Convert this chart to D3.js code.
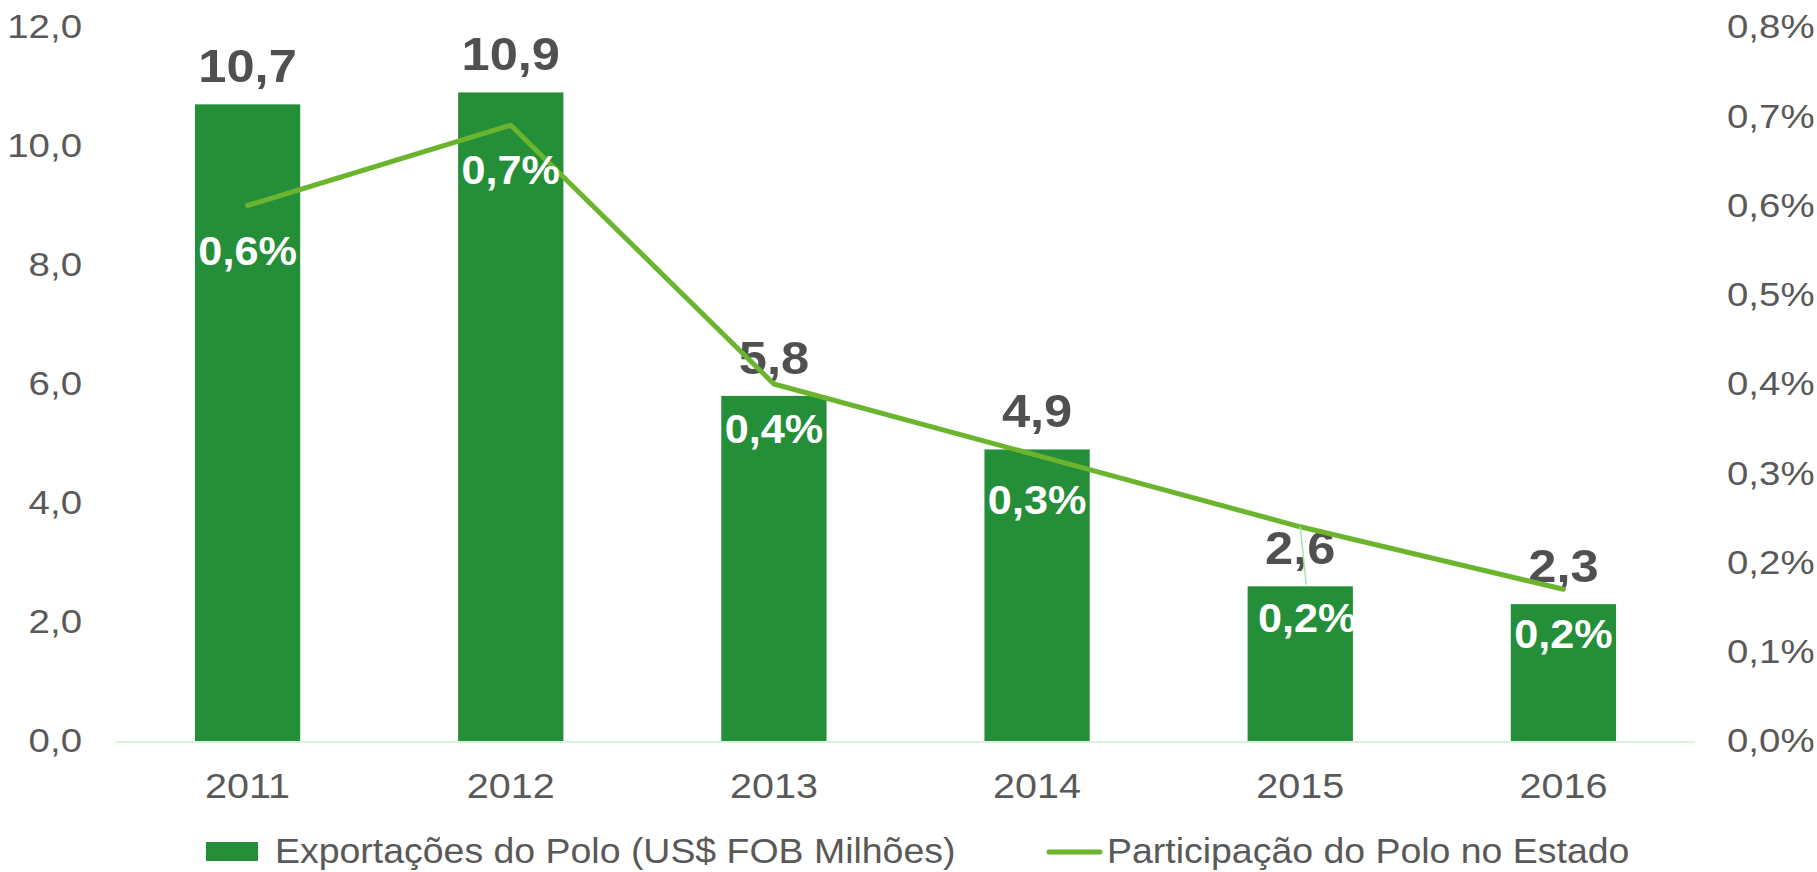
<!DOCTYPE html>
<html>
<head>
<meta charset="utf-8">
<script src="https://cdn.jsdelivr.net/npm/d3@7"></script>
<style>
  html, body { margin: 0; padding: 0; background: #fff; }
  svg { display: block; font-family: "Liberation Sans", Arial, sans-serif; }
</style>
</head>
<body>
<svg id="chart" width="1817" height="872"></svg>
<script>
// data
const years = ["2011", "2012", "2013", "2014", "2015", "2016"];
const exportacoes = [10.7, 10.9, 5.8, 4.9, 2.6, 2.3];      // US$ FOB milhões
const participacao = [0.60, 0.69, 0.40, 0.32, 0.24, 0.17]; // % do estado
const leftTicks = [0, 2, 4, 6, 8, 10, 12];
const rightTicks = [0, 0.1, 0.2, 0.3, 0.4, 0.5, 0.6, 0.7, 0.8];
const legendNames = ["Exportações do Polo (US$ FOB Milhões)", "Participação do Polo no Estado"];

const barColor = "#258e38";
const lineColor = "#6ab42e";
const textColor = "#595959";
const FONT = "Liberation Sans, Arial, sans-serif";
const SX = 1.13; // the original text is a bit wide, stretch it horizontally

const br = d3.formatLocale({decimal: ",", thousands: ".", grouping: [3], currency: ["R$", ""]});
const f1 = br.format(".1f");

const svg = d3.select("#chart");

const x = d3.scaleBand().domain(years).range([116, 1695]).paddingInner(0.6).paddingOuter(0.3);
const yL = d3.scaleLinear().domain([0, 12]).range([741, 27]);
const yR = d3.scaleLinear().domain([0, 0.8]).range([741, 27]);

function styleAxis(g, size) {
  g.select(".domain").remove();
  g.selectAll("text").attr("fill", textColor)
    .style("font-size", size + "px").style("font-family", FONT)
    .attr("transform", `scale(${SX},1)`);
}

// left axis
svg.append("g").attr("transform", "translate(82,0)")
  .call(d3.axisLeft(yL).tickValues(leftTicks).tickFormat(f1).tickSize(0).tickPadding(0))
  .call(g => styleAxis(g, 34));

// right axis
svg.append("g").attr("transform", "translate(1727,0)")
  .call(d3.axisRight(yR).tickValues(rightTicks).tickFormat(d => f1(d) + "%").tickSize(0).tickPadding(0))
  .call(g => styleAxis(g, 34));

// baseline
svg.append("line")
  .attr("x1", 116).attr("x2", 1695)
  .attr("y1", yL(0) + 1).attr("y2", yL(0) + 1)
  .attr("stroke", "#d8f4df").attr("stroke-width", 2);

// x axis
svg.append("g").attr("transform", "translate(0,773)")
  .call(d3.axisBottom(x).tickSize(0).tickPadding(0))
  .call(g => styleAxis(g, 35))
  .call(g => g.selectAll("text").attr("dy", "0.72em"));

// bars
svg.append("g").selectAll("rect")
  .data(years)
  .join("rect")
  .attr("x", d => x(d))
  .attr("width", x.bandwidth())
  .attr("y", (d, i) => yL(exportacoes[i]))
  .attr("height", (d, i) => yL(0) - yL(exportacoes[i]))
  .attr("fill", barColor);

// bar value labels
svg.append("g").selectAll("text")
  .data(years)
  .join("text")
  .attr("transform", (d, i) => `translate(${x(d) + x.bandwidth() / 2},${yL(exportacoes[i]) - 22}) scale(1.1,1)`)
  .attr("text-anchor", "middle")
  .attr("fill", "#505050")
  .style("font-size", "46px").style("font-weight", "bold")
  .text((d, i) => f1(exportacoes[i]));

// line
const line = d3.line()
  .x((d, i) => x(years[i]) + x.bandwidth() / 2)
  .y(d => yR(d));

svg.append("path")
  .datum(participacao)
  .attr("d", line)
  .attr("fill", "none")
  .attr("stroke", lineColor)
  .attr("stroke-width", 5)
  .attr("stroke-linecap", "round")
  .attr("stroke-linejoin", "round");

// the 2015 label was dragged down in the original, with a leader line
const nudge = {"2015": {dx: 7, dy: 46}};

years.forEach((yr, i) => {
  const n = nudge[yr];
  if (!n) return;
  const cx = x(yr) + x.bandwidth() / 2, cy = yR(participacao[i]);
  svg.append("line")
    .attr("x1", cx).attr("y1", cy)
    .attr("x2", cx + n.dx - 1).attr("y2", cy + n.dy + 12)
    .attr("stroke", "#a6e3b4").attr("stroke-width", 1.5);
});

svg.append("g").selectAll("text")
  .data(years)
  .join("text")
  .attr("transform", (d, i) => {
    const n = nudge[d] || {dx: 0, dy: 0};
    return `translate(${x(d) + x.bandwidth() / 2 + n.dx},${yR(participacao[i]) + 59 + n.dy}) scale(1.08,1)`;
  })
  .attr("text-anchor", "middle")
  .attr("fill", "#fff")
  .style("font-size", "40px").style("font-weight", "bold")
  .text((d, i) => f1(participacao[i]) + "%");

// legend
const lg = svg.append("g").attr("transform", "translate(0,851)");
lg.append("rect").attr("x", 206).attr("y", -9).attr("width", 52).attr("height", 19).attr("fill", barColor);
lg.append("text").attr("transform", "translate(275,0) scale(1.07,1)").attr("dy", "0.35em")
  .attr("fill", textColor).style("font-size", "35px").text(legendNames[0]);
lg.append("line").attr("x1", 1049).attr("x2", 1100).attr("y1", 1).attr("y2", 1)
  .attr("stroke", lineColor).attr("stroke-width", 5).attr("stroke-linecap", "round");
lg.append("text").attr("transform", "translate(1107,0) scale(1.07,1)").attr("dy", "0.35em")
  .attr("fill", textColor).style("font-size", "35px").text(legendNames[1]);
</script>
</body>
</html>
